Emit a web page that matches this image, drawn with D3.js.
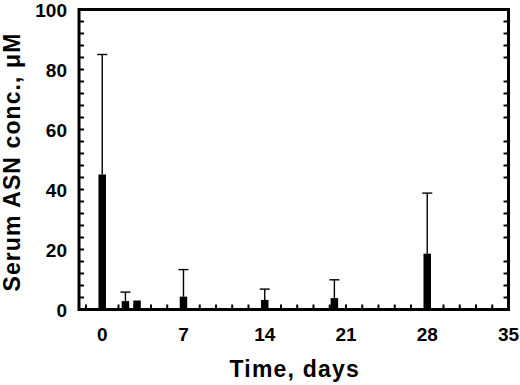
<!DOCTYPE html>
<html>
<head>
<meta charset="utf-8">
<script src="https://cdn.jsdelivr.net/npm/d3@7"></script>
<style>
  html, body { margin: 0; padding: 0; background: #fff; }
  svg { display: block; }
  text { font-family: "Liberation Sans", Arial, sans-serif; font-weight: bold; fill: #000; }
</style>
</head>
<body>
<div id="chart"></div>
<script>
// Serum ASN concentration over time (mean + SD)
const days = [0, 2, 3, 7, 14, 20, 28];
const means = [45, 2.8, 3.0, 4.3, 3.2, 3.8, 18.6];
const sds = [40, 3.0, 0, 9.0, 3.6, 6.1, 20.2];

const xTickLabels = [0, 7, 14, 21, 28, 35];
const yTickLabels = [0, 20, 40, 60, 80, 100];

const width = 520, height = 385;
const margin = { top: 9.5, right: 11.5, bottom: 75.5, left: 79 };

const x = d3.scaleLinear()
    .domain([-2, 35])
    .range([margin.left, width - margin.right]);

const y = d3.scaleLinear()
    .domain([0, 100])
    .range([height - margin.bottom, margin.top]);

const svg = d3.select("#chart")
    .append("svg")
    .attr("width", width)
    .attr("height", height);

const rows = days.map((d, i) => ({ day: d, mean: means[i], sd: sds[i] }));
const barW = 7.5;
const capW = 10;

// Bars
svg.append("g")
    .selectAll("rect")
    .data(rows)
    .join("rect")
    .attr("x", d => x(d.day) - barW / 2)
    .attr("y", d => y(d.mean))
    .attr("width", barW)
    .attr("height", d => y(0) - y(d.mean))
    .attr("fill", "#000");

// Upper error whiskers only
const err = svg.append("g")
    .attr("stroke", "#000")
    .attr("stroke-width", 1.4)
    .selectAll("g")
    .data(rows.filter(d => d.sd > 0))
    .join("g");

err.append("line")
    .attr("x1", d => x(d.day))
    .attr("x2", d => x(d.day))
    .attr("y1", d => y(d.mean))
    .attr("y2", d => y(d.mean + d.sd));

err.append("line")
    .attr("x1", d => x(d.day) - capW / 2)
    .attr("x2", d => x(d.day) + capW / 2)
    .attr("y1", d => y(d.mean + d.sd))
    .attr("y2", d => y(d.mean + d.sd));

// Inward tick marks: x every 1.4 days, y every 4 units
const tickLen = 5;
const xMinor = d3.range(0, 36).map(i => -1.4 + i * 1.4).filter(v => v > -2 && v < 34.9);
const yMinor = d3.range(1, 25).map(i => i * 4);

const ticks = svg.append("g").attr("stroke", "#000").attr("stroke-width", 2);

ticks.selectAll(".xt")
    .data(xMinor)
    .join("line")
    .attr("class", "xt")
    .attr("x1", d => x(d)).attr("x2", d => x(d))
    .attr("y1", y(0)).attr("y2", y(0) - tickLen);

ticks.selectAll(".yl")
    .data(yMinor)
    .join("line")
    .attr("class", "yl")
    .attr("x1", x(-2)).attr("x2", x(-2) + tickLen)
    .attr("y1", d => y(d)).attr("y2", d => y(d));

ticks.selectAll(".yr")
    .data(yMinor.filter(v => v % 20 !== 0))
    .join("line")
    .attr("class", "yr")
    .attr("x1", x(35)).attr("x2", x(35) - tickLen)
    .attr("y1", d => y(d)).attr("y2", d => y(d));

// Frame
svg.append("rect")
    .attr("x", x(-2))
    .attr("y", y(100))
    .attr("width", x(35) - x(-2))
    .attr("height", y(0) - y(100))
    .attr("fill", "none")
    .attr("stroke", "#000")
    .attr("stroke-width", 3);

// Tick labels
svg.append("g")
    .selectAll("text")
    .data(xTickLabels)
    .join("text")
    .attr("x", d => x(d))
    .attr("y", 340.5)
    .attr("text-anchor", "middle")
    .style("font-size", "19px")
    .text(d => d);

svg.append("g")
    .selectAll("text")
    .data(yTickLabels)
    .join("text")
    .attr("x", 67)
    .attr("y", d => y(d))
    .attr("dy", "0.38em")
    .attr("text-anchor", "end")
    .style("font-size", "19px")
    .text(d => d);

// Axis titles
svg.append("text")
    .attr("x", (x(-2) + x(35)) / 2 + 1)
    .attr("y", 377)
    .attr("text-anchor", "middle")
    .style("font-size", "23px")
    .style("letter-spacing", "1.2px")
    .text("Time, days");

svg.append("text")
    .attr("transform", `translate(19.5,${162}) rotate(-90)`)
    .attr("text-anchor", "middle")
    .style("font-size", "23px")
    .style("letter-spacing", "1.1px")
    .text("Serum ASN conc., μM");
</script>
</body>
</html>
